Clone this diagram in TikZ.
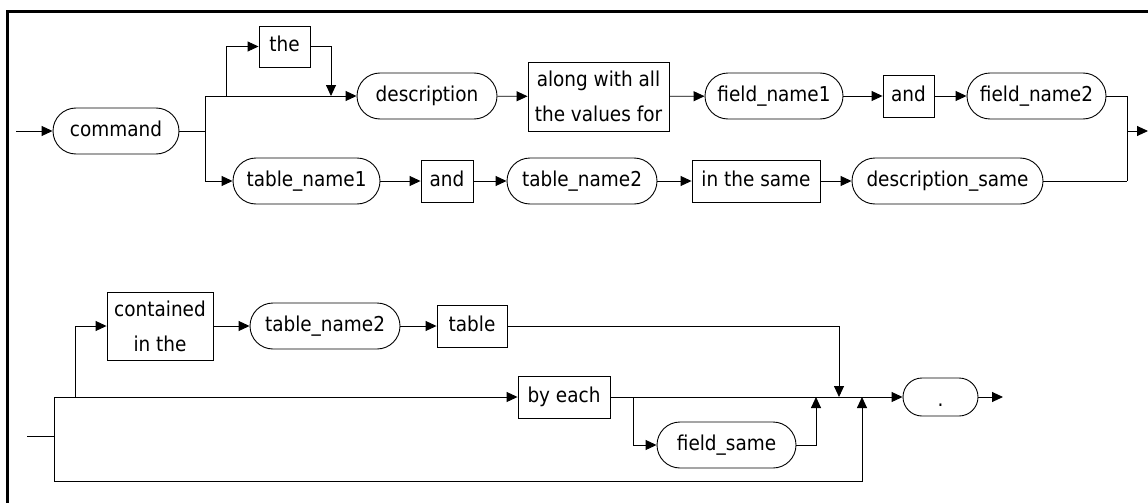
\documentclass[tikz,border=0pt]{standalone}
\usepackage{fontspec}
\IfFontExistsTF{DejaVu Sans Condensed}
  {\setmainfont{DejaVu Sans Condensed}\newcommand\labelsize{20.5}}
  {\setmainfont{DejaVu Sans}\newcommand\labelsize{18.5}}
\usetikzlibrary{arrows.meta}
\begin{document}
\begin{tikzpicture}[x=1pt,y=-1pt,
  line width=0.9pt,
  font=\fontsize{\labelsize}{24}\selectfont,
  term/.style={draw, rounded corners=23pt, minimum height=46pt, inner sep=0pt,
    text height=15pt, text depth=4pt},
  word/.style={draw, minimum height=42pt, inner sep=0pt,
    text height=15pt, text depth=4pt},
  wordtwo/.style={draw, inner sep=0pt, align=center,
    font=\fontsize{\labelsize}{35}\selectfont},
  flow/.style={-{Triangle[length=11pt,width=10pt]}}]
\useasboundingbox (0,0) rectangle (1148,503);

% frame
\draw[line width=3pt] (7.5,520) -- (7.5,12) -- (1160,12);

% ---- first rule: upper rows ----
\node[term, minimum width=126pt] (command) at (116,131) {command};
\node[word, minimum width=51pt, minimum height=41pt] (the) at (284.5,46.5) {the};
\node[term, minimum width=140pt] (description) at (427,96) {description};
\node[wordtwo, minimum width=141pt, minimum height=69pt] (along) at (598.5,96.5) {along with all\\the values for};
\node[term, minimum width=138pt] (fn1) at (774,96) {field\_name1};
\node[word, minimum width=51pt] (and1) at (908.5,96) {and};
\node[term, minimum width=139pt] (fn2) at (1036.5,96) {field\_name2};

\node[term, minimum width=147pt] (tn1) at (306.5,181) {table\_name1};
\node[word, minimum width=52pt] (and2) at (447,181) {and};
\node[term, minimum width=150pt] (tn2) at (582,181) {table\_name2};
\node[word, minimum width=128pt] (same) at (756,181) {in the same};
\node[term, minimum width=191pt] (dsame) at (947.5,181) {description\_same};

\coordinate (in1) at (16,131);
\coordinate (s1) at (205,131);
\coordinate (s1t) at (205,96);
\coordinate (s1b) at (205,181);
\coordinate (b1) at (226,96);
\coordinate (r1) at (331,96);
\coordinate (m1t) at (1127,96);
\coordinate (m1) at (1127,131);
\coordinate (m1b) at (1127,181);
\coordinate (out1) at (1148,131);

\draw[flow] (in1) -- (command);
\draw (command) -- (s1);
\draw (s1t) -- (s1b);
\draw[flow] (s1t) -- (description);
\draw[flow] (s1b) -- (tn1);
\draw[flow] (b1) |- (the);
\draw[flow] (the) -| (r1);
\draw[flow] (description) -- (along);
\draw[flow] (along) -- (fn1);
\draw[flow] (fn1) -- (and1);
\draw[flow] (and1) -- (fn2);
\draw[flow] (tn1) -- (and2);
\draw[flow] (and2) -- (tn2);
\draw[flow] (tn2) -- (same);
\draw[flow] (same) -- (dsame);
\draw (fn2) -- (m1t) -- (m1b);
\draw (dsame) -- (m1b);
\draw[flow] (m1) -- (out1);

% ---- second rule: lower rows ----
\node[wordtwo, minimum width=106pt, minimum height=68pt] (contained) at (160,326) {contained\\in the};
\node[term, minimum width=150pt] (tn2b) at (325,326) {table\_name2};
\node[word, minimum width=70pt] (table) at (472,326) {table};
\node[word, minimum width=92pt] (byeach) at (564,397) {by each};
\node[term, minimum width=139pt] (fsame) at (726.5,445) {field\_same};
\node[draw, rounded corners=19pt, minimum width=75pt, minimum height=38pt, inner sep=0pt,
  text height=23pt, text depth=4pt] (dot) at (940.5,397) {.};

\coordinate (in2) at (27,436);
\coordinate (j2) at (54,436);
\coordinate (j2t) at (54,397);
\coordinate (j2b) at (54,481);
\coordinate (b2) at (75,397);
\coordinate (b3) at (633,397);
\coordinate (r2) at (839,397);
\coordinate (r3) at (816,397);
\coordinate (r4) at (862,397);
\coordinate (out2) at (1003,397);

\draw (in2) -- (j2);
\draw (j2t) -- (j2b);
\draw[flow] (j2t) -- (byeach);
\draw[flow] (b2) |- (contained);
\draw[flow] (contained) -- (tn2b);
\draw[flow] (tn2b) -- (table);
\draw[flow] (table) -| (r2);
\draw[flow] (byeach) -- (dot);
\draw[flow] (b3) |- (fsame);
\draw[flow] (fsame) -| (r3);
\draw[flow] (j2b) -| (r4);
\draw[flow] (dot) -- (out2);
\end{tikzpicture}
\end{document}
